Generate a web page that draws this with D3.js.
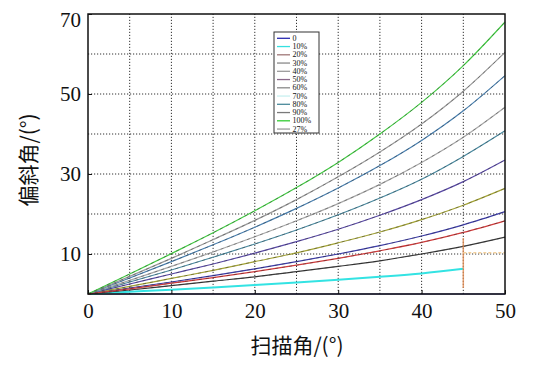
<!DOCTYPE html>
<html><head><meta charset="utf-8">
<script src="https://cdn.jsdelivr.net/npm/d3@7"></script>
<style>body{margin:0;background:#fff}svg{display:block}</style>
</head><body>
<svg id="c" width="538" height="369"></svg>
<script>
// ---- data ----
const scanAngles = [0, 5, 10, 15, 20, 25, 30, 35, 40, 45, 50];
const legendLabels = ["0", "10%", "20%", "30%", "40%", "50%", "60%", "70%", "80%", "90%", "100%", "27%"];
const s0   = [0, 0, 0, 0, 0, 0, 0, 0, 0, 0, 0];
const s10  = [0, 0.54, 1.08, 1.64, 2.23, 2.86, 3.54, 4.29, 5.14, 6.3];
const s20  = [0, 1.0, 2.1, 3.2, 4.3, 5.6, 6.9, 8.3, 10.0, 11.9, 14.2];
const s27  = [0, 1.3, 2.7, 4.1, 5.6, 7.2, 8.9, 10.8, 12.9, 15.4, 18.3];
const s30  = [0, 1.5, 3.0, 4.6, 6.3, 8.1, 10.0, 12.1, 14.5, 17.3, 20.6];
const s40  = [0, 1.9, 3.9, 5.9, 8.1, 10.3, 12.8, 15.5, 18.6, 22.2, 26.4];
const s50  = [0, 2.5, 5.0, 7.5, 10.2, 13.1, 16.2, 19.7, 23.6, 28.1, 33.5];
const s60  = [0, 3.0, 6.0, 9.2, 12.5, 16.0, 19.8, 24.0, 28.7, 34.4, 40.8];
const s70  = [0, 3.4, 6.9, 10.5, 14.3, 18.3, 22.6, 27.4, 32.9, 39.2, 46.7];
const s80  = [0, 4.0, 8.1, 12.3, 16.7, 21.4, 26.5, 32.1, 38.4, 45.8, 54.6];
const s90  = [0, 4.4, 8.9, 13.6, 18.4, 23.6, 29.3, 35.5, 42.5, 50.7, 60.4];
const s100 = [0, 5.0, 10.1, 15.3, 20.8, 26.6, 32.9, 40.0, 47.9, 57.1, 68.0];
// stray marks near 45°
const dropX = [45, 45];
const dropY = [14, 1.5];
const stubX = [45, 50];
const stubY = [10.3, 10.3];
const xTicks = [0, 10, 20, 30, 40, 50];
const yTicks = [10, 30, 50, 70];

// ---- styles ----
const seriesData = [s0, s10, s20, s30, s40, s50, s60, s70, s80, s90, s100, s27];
const lineColors = ["#3333aa", "#33e3e3", "#3a3a3a", "#3c3ca8", "#a3a336", "#5a4aa6", "#4a8aa0", "#a8a8a8", "#4a80b0", "#9a9a9a", "#44cc44", "#d03a3a"];
const legendColors = ["#2b2bb0", "#35e0e0", "#a07878", "#8a8a8a", "#9a9a9a", "#8a6a8a", "#8a8a8a", "#c8f0f0", "#4a8a9a", "#7a7a7a", "#33cc33", "#9a9a9a"];

const svg = d3.select("#c");
const x = d3.scaleLinear().domain([0, 50]).range([88, 505]);
const y = d3.scaleLinear().domain([0, 70]).range([294, 14]);

// grid
const g = svg.append("g");
g.selectAll(".gx").data(d3.range(5, 50, 5)).enter().append("line")
  .attr("x1", d => x(d)).attr("x2", d => x(d)).attr("y1", y(0)).attr("y2", y(70))
  .attr("stroke", "#333").attr("stroke-width", 1).attr("stroke-dasharray", "1.2,1.8");
g.selectAll(".gy").data(d3.range(10, 70, 10)).enter().append("line")
  .attr("y1", d => y(d)).attr("y2", d => y(d)).attr("x1", x(0)).attr("x2", x(50))
  .attr("stroke", "#333").attr("stroke-width", 1).attr("stroke-dasharray", "1.2,1.8");

// curves
const line = d3.line().x((d, i) => x(scanAngles[i])).y(d => y(d)).curve(d3.curveMonotoneX);
const curves = svg.append("g");
seriesData.forEach((s, k) => {
  curves.append("path").attr("d", line(s)).attr("fill", "none")
    .attr("stroke", lineColors[k]).attr("stroke-width", k === 1 ? 2 : 1.2);
  if (k !== 1 && k !== 0) {
    curves.append("path").attr("d", line(s)).attr("fill", "none")
      .attr("stroke", "rgba(30,30,30,0.45)").attr("stroke-width", 0.8).attr("stroke-dasharray", "3,4");
  }
});
// stray marks
const pl = d3.line().x(d => x(d[0])).y(d => y(d[1]));
curves.append("path").attr("d", pl(dropX.map((v, i) => [v, dropY[i]])))
  .attr("stroke", "#e08a50").attr("stroke-width", 1.5).attr("fill", "none").attr("opacity", 0.8);
curves.append("path").attr("d", pl(stubX.map((v, i) => [v, stubY[i]])))
  .attr("stroke", "#f3cf9a").attr("stroke-width", 1.5).attr("stroke-dasharray", "3,2").attr("fill", "none");

// frame
svg.append("rect").attr("x", x(0)).attr("y", y(70)).attr("width", x(50) - x(0)).attr("height", y(0) - y(70))
  .attr("fill", "none").attr("stroke", "#111").attr("stroke-width", 1.5);

// axes
const xa = svg.append("g").attr("transform", `translate(0,${y(0)})`)
  .call(d3.axisBottom(x).tickValues(xTicks).tickSize(-4).tickPadding(6).tickFormat(d3.format("d")));
const ya = svg.append("g").attr("transform", `translate(${x(0)},0)`)
  .call(d3.axisLeft(y).tickValues(yTicks).tickSize(-4).tickPadding(7).tickFormat(d3.format("d")));
[xa, ya].forEach(a => {
  a.select(".domain").remove();
  a.selectAll(".tick line").attr("stroke", "#111");
  a.selectAll("text").style("font-family", "'Liberation Serif', 'Times New Roman', serif")
    .attr("font-size", 21).attr("fill", "#111");
});
xa.selectAll("text").attr("dy", "0.85em");
ya.selectAll(".tick").filter(d => d === 70).select("text").attr("dy", "0.6em");

// titles
svg.append("text").attr("x", 297).attr("y", 353).attr("text-anchor", "middle")
  .style("font-family", "'Noto Sans CJK SC', sans-serif").attr("font-size", 21).attr("fill", "#111")
  .text("扫描角/(°)");
svg.append("text").attr("transform", "translate(36,160) rotate(-90)").attr("text-anchor", "middle")
  .style("font-family", "'Noto Sans CJK SC', sans-serif").attr("font-size", 21).attr("fill", "#111")
  .text("偏斜角/(°)");

// legend
const lg = svg.append("g");
lg.append("rect").attr("x", 274).attr("y", 32).attr("width", 45).attr("height", 101)
  .attr("fill", "#fff").attr("stroke", "#333").attr("stroke-width", 1);
legendLabels.forEach((lab, i) => {
  const yy = 38.3 + i * 8.25;
  lg.append("line").attr("x1", 277).attr("x2", 290).attr("y1", yy).attr("y2", yy)
    .attr("stroke", legendColors[i]).attr("stroke-width", 1.3);
  lg.append("text").attr("x", 292.5).attr("y", yy).attr("dy", "0.33em")
    .style("font-family", "'Liberation Serif', serif").attr("font-size", 8).attr("fill", "#111").text(lab);
});
</script>
</body></html>
